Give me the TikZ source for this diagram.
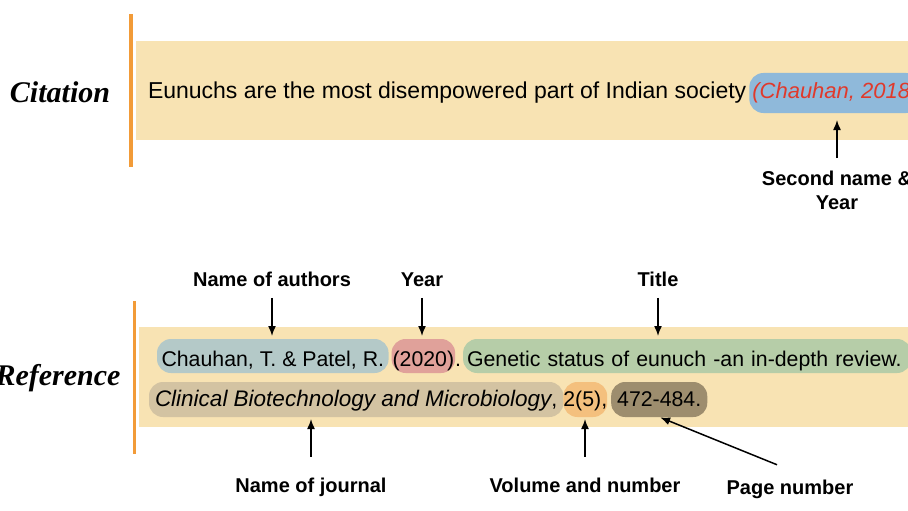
\documentclass[tikz,border=0pt]{standalone}
\usepackage{fontspec}
\setmainfont{Liberation Sans}
\newfontfamily\headfont{Liberation Serif}
\usetikzlibrary{positioning,arrows.meta}
\definecolor{bandc}{HTML}{F8E3B3}
\definecolor{barc}{HTML}{F29B38}
\definecolor{citec}{HTML}{8FB9DA}
\definecolor{citered}{HTML}{E0392B}
\definecolor{authc}{HTML}{B4C9C8}
\definecolor{yearc}{HTML}{E0A19A}
\definecolor{titlec}{HTML}{B6CDA8}
\definecolor{journc}{HTML}{D3C3A2}
\definecolor{volc}{HTML}{F4C07E}
\definecolor{pagec}{HTML}{9D8D6E}
\tikzset{
	pill/.style={fill=#1,rounded corners=14pt,inner xsep=3pt,inner ysep=0pt,outer sep=0pt},
	rowa/.style={text height=27pt,text depth=7pt,font=\fontsize{21.3}{26}\selectfont},
	rowb/.style={text height=24pt,text depth=11pt,font=\fontsize{21.3}{26}\selectfont},
	lbl/.style={inner sep=0pt,anchor=base,font=\fontsize{20}{24}\selectfont\bfseries},
	head/.style={font=\headfont\fontsize{30}{36}\selectfont\bfseries\itshape}
}
\begin{document}
\begin{tikzpicture}[x=1pt,y=-1pt,>={Latex[length=10pt,width=8pt]},line width=1.5pt]
\useasboundingbox (0,0) rectangle (908,511);
\clip (0,0) rectangle (908,511);
% citation
\begin{scope}
\fill[barc] (129,14) rectangle (133,167);
\fill[bandc] (136,41) rectangle (930,140);
\node[head] (cit) at (60,92) {Citation};
\node[anchor=base west,inner sep=0pt,outer sep=0pt,font=\fontsize{23}{27}\selectfont] (sent) at (148,99) {Eunuchs are the most disempowered part of Indian society};
\node[pill=citec,text height=26pt,text depth=14pt,font=\fontsize{22}{27}\selectfont\itshape,text=citered,base right=3pt of sent] (cite) {(Chauhan, 2018)};
\node[lbl,align=center,anchor=north] (lsecond) at (837,170) {Second name \&\\Year};
\draw[->,shorten <=12pt,shorten >=7pt] (lsecond.north) -- (lsecond.north |- cite.south);
\end{scope}
% reference
\begin{scope}
\fill[barc] (133,301) rectangle (136,454);
\fill[bandc] (139,327) rectangle (930,427);
\node[head] (ref) at (58,378) {Reference};
\node[pill=authc,rowa,inner xsep=4.5pt,anchor=north west] (authors) at (157,339) {Chauhan, T. \& Patel, R.};
\node[pill=yearc,rowa,inner xsep=1pt,base right=3pt of authors] (year) {(2020)};
\node[rowa,inner sep=0pt,outer sep=0pt,base right=0pt of year] (dot) {.};
\node[pill=titlec,rowa,inner xsep=4pt,text width=440pt,align=left,base right=2pt of dot] (title) {Genetic status of eunuch -an in-depth review.};
\node[pill=journc,rowb,inner xsep=6pt,anchor=north west] (journal) at (149,382) {{\fontsize{22.5}{26}\selectfont\itshape Clinical Biotechnology and Microbiology},};
\node[pill=volc,rowb,inner xsep=0pt,base right=0pt of journal] (vol) {2(5),};
\node[pill=pagec,rowb,inner xsep=6pt,base right=4pt of vol] (pages) {472-484.};
\node[lbl] (lauth) at (272,286) {Name of authors};
\node[lbl] (lyear) at (422,286) {Year};
\node[lbl] (ltitle) at (658,286) {Title};
\node[lbl] (ljourn) at (311,492) {Name of journal};
\node[lbl] (lvol) at (585,492) {Volume and number};
\node[lbl] (lpage) at (790,494) {Page number};
\draw[->,shorten <=11pt,shorten >=3pt] (lauth.south) -- (lauth.south |- authors.north);
\draw[->,shorten <=11pt,shorten >=3pt] (lyear.south) -- (lyear.south |- year.north);
\draw[->,shorten <=11pt,shorten >=3pt] (ltitle.south) -- (ltitle.south |- title.north);
\draw[->,shorten <=20pt,shorten >=2pt] (ljourn.north) -- (ljourn.north |- journal.south);
\draw[->,shorten <=20pt,shorten >=2pt] (lvol.north) -- (lvol.north |- vol.south);
\draw[->,shorten >=1pt] ([xshift=-13pt,yshift=14pt]lpage.north) -- (pages.south);
\end{scope}
\end{tikzpicture}
\end{document}
